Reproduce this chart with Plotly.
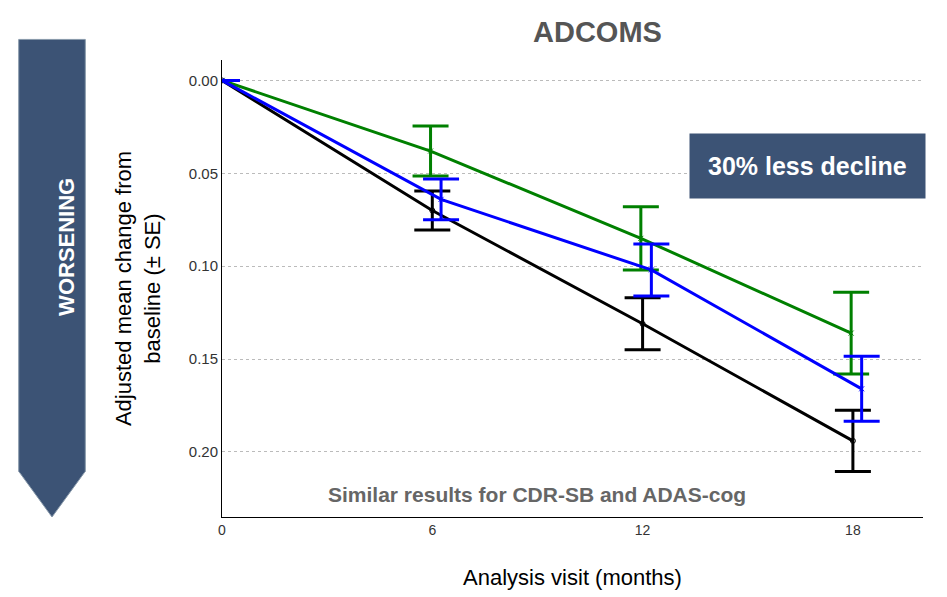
import plotly.graph_objects as go

months = [0, 6, 12, 18]
black_y = [0, 0.070, 0.131, 0.194]
black_se = [0, 0.0105, 0.014, 0.0165]
blue_x = [0, 6.25, 12.25, 18.25]
blue_y = [0, 0.064, 0.102, 0.166]
blue_se = [0, 0.011, 0.014, 0.0175]
green_x = [0, 5.95, 11.95, 17.95]
green_y = [0, 0.038, 0.085, 0.136]
green_se = [0, 0.0135, 0.017, 0.022]

fig = go.Figure()
for xs, ys, se, col, sym in [(months, black_y, black_se, "black", "circle-open"),
                             (green_x, green_y, green_se, "green", "x-thin-open"),
                             (blue_x, blue_y, blue_se, "blue", "x-thin-open")]:
    fig.add_trace(go.Scatter(
        x=xs, y=ys, mode="lines+markers",
        line=dict(color=col, width=3),
        marker=dict(symbol=sym, size=5, color=col, line=dict(color=col, width=1)),
        error_y=dict(type="data", array=se, color=col, thickness=3, width=18),
        showlegend=False))

fig.update_xaxes(range=[0, 20], tickvals=[0, 6, 12, 18], showgrid=False,
                 showline=True, linecolor="black", linewidth=1, ticks="",
                 title=dict(text="Analysis visit (months)", font=dict(size=22, color="black"), standoff=32),
                 tickfont=dict(size=14, color="#333"))
fig.update_yaxes(range=[0.235, -0.011], tickvals=[0, 0.05, 0.10, 0.15, 0.20],
                 ticktext=["0.00", "0.05", "0.10", "0.15", "0.20"],
                 showgrid=True, gridcolor="#bbb", griddash="dot", zeroline=False,
                 showline=True, linecolor="black", linewidth=1, ticks="",
                 title=dict(text="Adjusted mean change from<br>baseline (± SE)", font=dict(size=22, color="black"), standoff=22),
                 tickfont=dict(size=15, color="#333"))

# WORSENING arrow
fig.add_shape(type="path", xref="paper", yref="paper",
              path="M -0.290 1.045 L -0.195 1.045 L -0.195 0.10 L -0.2425 0.0 L -0.290 0.10 Z",
              fillcolor="#3c5375", line=dict(color="#8899aa", width=1))
fig.add_annotation(xref="paper", yref="paper", x=-0.2425, y=0.59, text="<b>WORSENING</b>",
                   textangle=-90, showarrow=False, font=dict(size=22, color="white"))

fig.add_annotation(xref="paper", yref="paper", x=0.535, y=1.10, text="<b>ADCOMS</b>",
                   showarrow=False, font=dict(size=29, color="#555"))
fig.add_annotation(xref="paper", yref="paper", x=0.835, y=0.84, text="<b>30% less decline</b>",
                   showarrow=False, font=dict(size=25, color="white"), bgcolor="#3c5375",
                   borderpad=18, xanchor="center")
fig.add_annotation(xref="paper", yref="paper", x=0.45, y=0.02,
                   text="<b>Similar results for CDR-SB and ADAS-cog</b>",
                   showarrow=False, font=dict(size=21, color="#666"))

fig.update_layout(width=947, height=597, plot_bgcolor="white", paper_bgcolor="white",
                  font=dict(family="Liberation Sans, Arial"),
                  margin=dict(l=214, r=32, t=52, b=88))
fig.write_html("out.html")
